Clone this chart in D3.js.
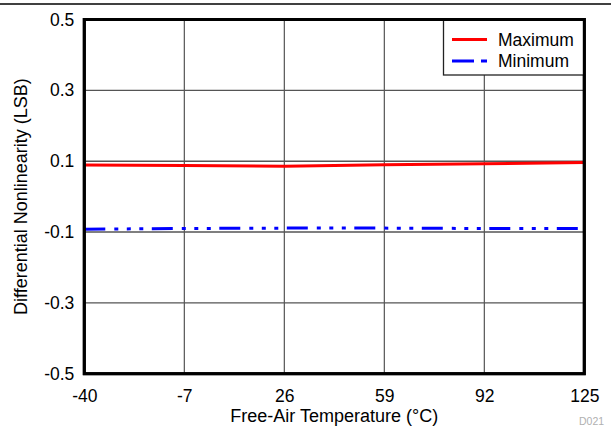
<!DOCTYPE html>
<html>
<head>
<meta charset="utf-8">
<script src="https://cdn.jsdelivr.net/npm/d3@7"></script>
<style>
  html, body { margin: 0; padding: 0; background: #fff; }
  svg { display: block; }
  text { font-family: Arial, "Liberation Sans", sans-serif; fill: #000; }
</style>
</head>
<body>
<svg id="chart" width="611" height="427"></svg>
<script>
// ---- data ----
const temperatures = [-40, -7, 26, 59, 92, 125];
const maximumDNL   = [0.089, 0.088, 0.086, 0.090, 0.093, 0.096];
const minimumDNL   = [-0.092, -0.090, -0.089, -0.089, -0.090, -0.090];
const xTicks = [-40, -7, 26, 59, 92, 125];
const yTicks = [-0.5, -0.3, -0.1, 0.1, 0.3, 0.5];
const seriesNames = ["Maximum", "Minimum"];
const xTitle = "Free-Air Temperature (°C)";
const yTitle = "Differential Nonlinearity (LSB)";
const figureId = "D021";

// ---- layout ----
const W = 611, H = 427;
const L = 84.3, R = 584.3, T = 19.5, B = 373.7;
const svg = d3.select("#chart");

const x = d3.scaleLinear().domain([-40, 125]).range([L, R]);
const y = d3.scaleLinear().domain([-0.5, 0.5]).range([B, T]);
const hyphen = f => (d => f(d).replace("\u2212", "-"));

// top rule
svg.append("line").attr("x1", 0).attr("x2", W).attr("y1", 4).attr("y2", 4)
  .attr("stroke", "#000").attr("stroke-width", 1.5);

// grid
const grid = svg.append("g");
grid.selectAll("line.v").data(xTicks.slice(1, -1)).join("line")
  .attr("x1", d => x(d)).attr("x2", d => x(d)).attr("y1", T).attr("y2", B)
  .attr("stroke", "#444").attr("stroke-width", 1.1);
grid.selectAll("line.h").data(yTicks.slice(1, -1)).join("line")
  .attr("x1", L).attr("x2", R).attr("y1", d => y(d)).attr("y2", d => y(d))
  .attr("stroke", "#555").attr("stroke-width", 1.4);

// axes labels via d3 axes
const xAxis = svg.append("g").attr("transform", `translate(0,${B})`)
  .call(d3.axisBottom(x).tickValues(xTicks).tickSize(0).tickPadding(16).tickFormat(hyphen(d3.format("d"))));
xAxis.select(".domain").remove();
xAxis.selectAll("text").attr("font-size", "17.5px").attr("fill", "#000")
  .attr("font-family", "Arial, 'Liberation Sans', sans-serif");

const yAxis = svg.append("g").attr("transform", `translate(${L},0)`)
  .call(d3.axisLeft(y).tickValues(yTicks).tickSize(0).tickPadding(10).tickFormat(hyphen(d3.format(".1f"))));
yAxis.select(".domain").remove();
yAxis.selectAll("text").attr("font-size", "17.5px").attr("fill", "#000")
  .attr("font-family", "Arial, 'Liberation Sans', sans-serif");

// series
const line = d3.line().x(d => x(d[0])).y(d => y(d[1]));
const maxData = temperatures.map((t, i) => [t, maximumDNL[i]]);
const minData = temperatures.map((t, i) => [t, minimumDNL[i]]);

svg.append("path").datum(maxData).attr("d", line)
  .attr("fill", "none").attr("stroke", "#ff0000").attr("stroke-width", 3);
svg.append("path").datum(minData).attr("d", line)
  .attr("fill", "none").attr("stroke", "#0000ff").attr("stroke-width", 3)
  .attr("stroke-dasharray", "21,9,4,8.5,4,8.5,4,8.5");

// plot border
svg.append("rect").attr("x", L).attr("y", T).attr("width", R - L).attr("height", B - T)
  .attr("fill", "none").attr("stroke", "#000").attr("stroke-width", 3);

// legend
const lg = svg.append("g");
lg.append("rect").attr("x", 443.5).attr("y", T).attr("width", R - 443.5).attr("height", 75 - T)
  .attr("fill", "#fff").attr("stroke", "#222").attr("stroke-width", 1.3);
lg.append("rect").attr("x", L).attr("y", T).attr("width", R - L).attr("height", B - T)
  .attr("fill", "none").attr("stroke", "#000").attr("stroke-width", 3);
const legendItems = [
  {name: seriesNames[0], color: "#ff0000", dash: null, y: 39.5},
  {name: seriesNames[1], color: "#0000ff", dash: "22,7,6,100", y: 61}
];
legendItems.forEach(it => {
  lg.append("line").attr("x1", 452).attr("x2", 487).attr("y1", it.y).attr("y2", it.y)
    .attr("stroke", it.color).attr("stroke-width", 3)
    .attr("stroke-dasharray", it.dash);
  lg.append("text").attr("x", 498).attr("y", it.y + 6.3).attr("font-size", "17.5px").text(it.name);
});

// titles
svg.append("text").attr("x", (L + R) / 2).attr("y", 421.5).attr("text-anchor", "middle")
  .attr("font-size", "18px").text(xTitle);
svg.append("text").attr("transform", `translate(27,${(T + B) / 2}) rotate(-90)`)
  .attr("text-anchor", "middle").attr("font-size", "18px").text(yTitle);

// figure id
svg.append("text").attr("x", 579).attr("y", 425).attr("font-size", "10.5px")
  .style("fill", "#b0b0b0").text(figureId);
</script>
</body>
</html>
